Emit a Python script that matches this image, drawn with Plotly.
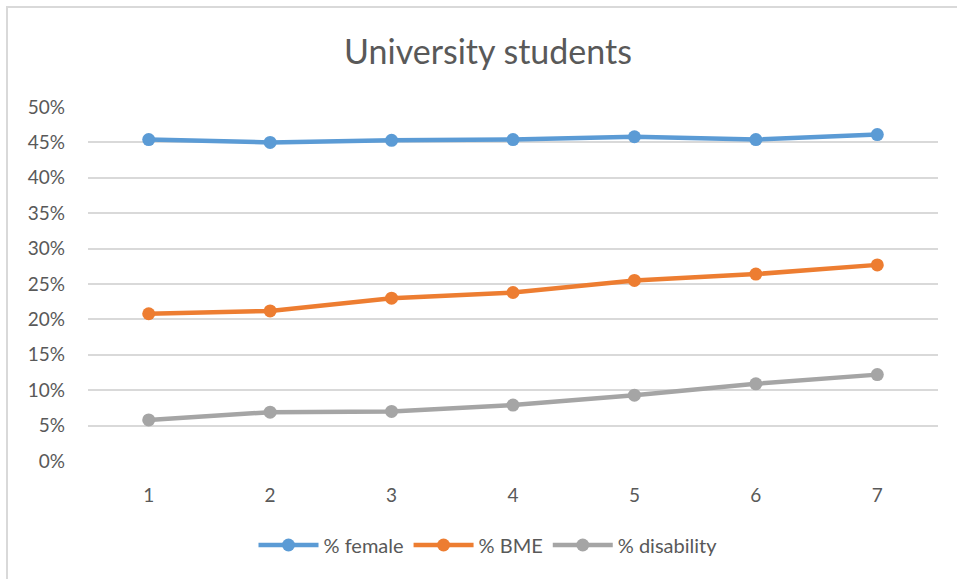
import plotly.graph_objects as go

categories = [1, 2, 3, 4, 5, 6, 7]
pct_female = [0.454, 0.450, 0.453, 0.454, 0.458, 0.454, 0.461]
pct_bme = [0.208, 0.212, 0.230, 0.238, 0.255, 0.264, 0.277]
pct_disability = [0.058, 0.069, 0.070, 0.079, 0.093, 0.109, 0.122]
series_names = ["% female", "% BME", "% disability"]
series_colors = ["#5B9BD5", "#ED7D31", "#A5A5A5"]

FONT = "Lato, 'Open Sans', sans-serif"
TXT = "#595959"

fig = go.Figure()
for name, vals, col in zip(series_names, [pct_female, pct_bme, pct_disability], series_colors):
    fig.add_trace(go.Scatter(
        x=categories, y=vals, name=name, mode="lines+markers",
        line=dict(color=col, width=4.5),
        marker=dict(color=col, size=13),
    ))

W, H = 957, 579
L, R, T, B = 88, 19, 107, 118
pw, ph = W - L - R, H - T - B

def px_x(p):
    return (p - L) / pw

def px_y(p):
    return (H - B - p) / ph

fig.update_layout(
    width=W, height=H,
    margin=dict(l=L, r=R, t=T, b=B),
    paper_bgcolor="white", plot_bgcolor="white",
    font=dict(family=FONT, color=TXT, size=19),
    title=dict(text="University students", x=488 / W, xanchor="center",
               y=1 - 52 / H, yanchor="middle",
               font=dict(family=FONT, size=34, color=TXT)),
    showlegend=True,
    legend=dict(orientation="h", x=px_x(488), xanchor="center",
                y=px_y(545), yanchor="middle",
                font=dict(family=FONT, size=20, color=TXT),
                itemwidth=60),
    shapes=[dict(type="rect", xref="paper", yref="paper",
                 x0=px_x(7), x1=px_x(970), y0=px_y(600), y1=px_y(7),
                 line=dict(color="#D9D9D9", width=2), fillcolor="rgba(0,0,0,0)",
                 layer="below")],
)
fig.update_xaxes(
    type="category", range=[-0.5, 6.5],
    showgrid=False, zeroline=False, showline=False,
    ticks="", ticklabelstandoff=21,
    tickfont=dict(family=FONT, size=19, color=TXT),
)
fig.update_yaxes(
    range=[0, 0.5], dtick=0.05, tickformat=".0%",
    showgrid=True, gridcolor="#D9D9D9", gridwidth=1.5,
    zeroline=False, showline=False, ticks="", ticklabelstandoff=22,
    tickfont=dict(family=FONT, size=19, color=TXT),
)
fig.write_html("out.html")
